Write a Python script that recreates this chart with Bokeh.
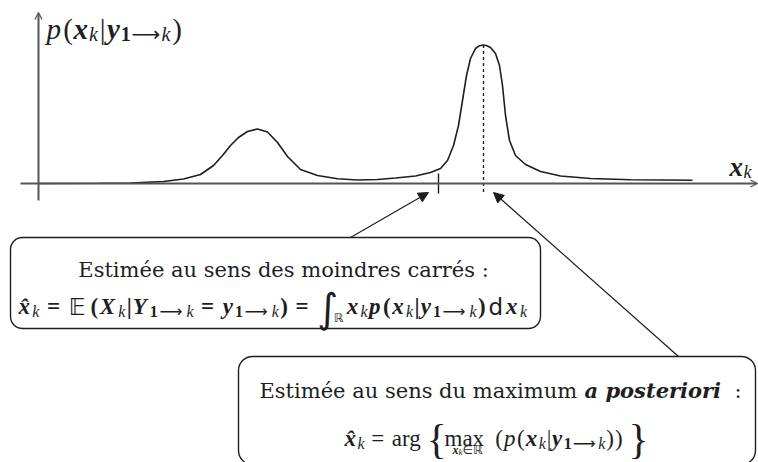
from bokeh.plotting import figure
from bokeh.models import Range1d, Label, Arrow, NormalHead, OpenHead, BoxAnnotation
from bokeh.embed import file_html
from bokeh.resources import INLINE

W, H = 758, 462

# Data space: the axes cross at pixel (38, 183); 1 unit of x_k = 50 px, 1 unit of density = 100 px
X0_PX, Y0_PX = 38, 183
XU, YU = 50.0, 100.0


def X(px):
    return (px - X0_PX) / XU


def Y(py):
    return (Y0_PX - py) / YU


# Posterior density p(x_k | y_1->k): a small bump and a sharp main mode
x_k = [0.0, 1.24, 1.84, 2.5, 2.9, 3.24, 3.5, 3.68, 3.84, 4.0, 4.18, 4.38, 4.58, 4.78,
       4.98, 5.24, 5.58, 5.98, 6.38, 6.78, 7.14, 7.54, 7.84, 8.04, 8.18, 8.3, 8.4, 8.48,
       8.56, 8.64, 8.74, 8.82, 8.9, 8.97, 9.04, 9.14, 9.22, 9.28, 9.34, 9.42, 9.54, 9.74,
       10.04, 10.44, 11.04, 11.84, 13.08]
density = [0.0, 0.002, 0.004, 0.02, 0.045, 0.09, 0.18, 0.28, 0.38, 0.46, 0.52, 0.545, 0.515, 0.41,
           0.27, 0.14, 0.08, 0.047, 0.035, 0.04, 0.055, 0.075, 0.11, 0.15, 0.23, 0.38, 0.58, 0.83,
           1.08, 1.25, 1.35, 1.378, 1.385, 1.378, 1.36, 1.3, 1.18, 0.98, 0.68, 0.43, 0.28, 0.19,
           0.12, 0.075, 0.05, 0.037, 0.032]

# Least-squares (posterior mean) estimate marked by a tick on the axis
x_mmse = 8.0

INK = "#1e1e1e"
AXIS = "#555555"
SERIF = "DejaVu Serif"
MATH = "Liberation Serif"
SANS = "DejaVu Sans"
GAP = None  # marker for a horizontal gap inside a math run

p = figure(width=W, height=H, x_range=Range1d(X(0), X(W)), y_range=Range1d(Y(H), Y(0)),
           output_backend="svg", toolbar_location=None, min_border=0)
p.axis.visible = False
p.grid.visible = False
p.outline_line_color = None
p.background_fill_color = "white"
p.border_fill_color = "white"

# axes with arrow heads
p.add_layout(Arrow(end=OpenHead(size=7, line_width=1.3, line_color=AXIS),
                   x_start=X(38), y_start=Y(200), x_end=X(38), y_end=Y(12),
                   line_color=AXIS, line_width=2))
p.add_layout(Arrow(end=OpenHead(size=7, line_width=1.3, line_color=AXIS),
                   x_start=X(20), y_start=0, x_end=X(757), y_end=0,
                   line_color=AXIS, line_width=2))

# density curve
p.line(x_k, density, line_color=INK, line_width=1.6)

# MAP estimate: dashed line from the highest point of the curve
i_max = max(range(len(density)), key=lambda i: density[i])
p.segment(x0=[x_k[i_max]], y0=[density[i_max]], x1=[x_k[i_max]], y1=[-0.1],
          line_color=INK, line_width=1.4, line_dash="3 3")
# MMSE tick
p.segment(x0=[x_mmse], y0=[0.1], x1=[x_mmse], y1=[-0.1], line_color=INK, line_width=1.4)

# boxes
p.add_layout(BoxAnnotation(left=X(10), right=X(540), top=Y(237), bottom=Y(328),
                           fill_color="white", fill_alpha=1.0, line_color=INK, line_alpha=1.0,
                           line_width=1.4, border_radius=12))
p.add_layout(BoxAnnotation(left=X(238), right=X(755), top=Y(356), bottom=Y(464),
                           fill_color="white", fill_alpha=1.0, line_color=INK, line_alpha=1.0,
                           line_width=1.4, border_radius=14))

# arrows from the boxes to the estimates on the axis
p.add_layout(Arrow(end=NormalHead(size=10, fill_color=INK, line_color=INK, line_width=1),
                   x_start=X(350), y_start=Y(237), x_end=X(428), y_end=Y(192),
                   line_color=INK, line_width=1.2))
p.add_layout(Arrow(end=NormalHead(size=10, fill_color=INK, line_color=INK, line_width=1),
                   x_start=X(678), y_start=Y(356), x_end=X(493), y_end=Y(192),
                   line_color=INK, line_width=1.2))


def put(px, py, txt, size, style="normal", font=SERIF, align="left"):
    p.add_layout(Label(x=X(px), y=Y(py), text=txt, text_font=font,
                       text_font_size=f"{size}px", text_font_style=style,
                       text_align=align, text_baseline="alphabetic", text_color=INK))


# advance widths (em) used to set math runs glyph by glyph
EM = {
    (MATH, "normal"): {"(": .333, ")": .333, "=": .564, "|": .2, "a": .444, "r": .333,
                       "g": .5, "m": .778, "x": .5, "{": .48, "}": .48},
    (MATH, "bold"): {"(": .333, ")": .333, "=": .57, "|": .22, "1": .5},
    (MATH, "italic"): {"k": .444, "p": .5},
    (MATH, "bold italic"): {"x": .5, "y": .444, "X": .667, "Y": .611, "p": .5},
    (SANS, "normal"): {"\U0001D53C": .70, "\u211d": .72, "\u2208": .87, "\u27f6": 1.4,
                       "d": .635, "\u222b": .52},
}


def advance(text, size, style, font):
    table = EM[(font, style)]
    return sum(table[c] for c in text if c != "\u0302") * size


def typeset(x_start, x_end, baseline, items):
    """Set a run of glyphs left to right, stretched to span x_start..x_end.
    items: (GAP, px) for a gap, or (text, size, style, font, dy[, adv]).
    Returns the (x, width) of every placed glyph."""
    layout, x = [], 0.0
    for it in items:
        if it[0] is GAP:
            x += it[1]
            continue
        text, size, style, font, dy = it[:5]
        w = it[5] if len(it) > 5 else advance(text, size, style, font)
        layout.append((x, w, it))
        x += w
    f = (x_end - x_start) / x
    placed = []
    for x0, w, it in layout:
        text, size, style, font, dy = it[:5]
        px = x_start + x0 * f
        if len(it) > 5:
            put(px + w * f / 2, baseline + dy, text, size, style, font, align="center")
        else:
            put(px, baseline + dy, text, size, style, font)
        placed.append((px, w * f))
    return placed


def sub_1k(size):
    # subscript "1 -> k"
    return [("1", size, "bold", MATH, 5),
            ("\u27f6", size, "normal", SANS, 5),
            ("k", size, "italic", MATH, 5)]


# vertical axis label p(x_k | y_1->k)
L, l = 29, 20
typeset(46, 182, 28, [
    ("p", L, "italic", MATH, 0), (GAP, 1),
    ("(", L, "normal", MATH, 0),
    ("x", L, "bold italic", MATH, 0),
    ("k", l, "italic", MATH, 5), (GAP, 1),
    ("|", L, "normal", MATH, 0), (GAP, 1),
    ("y", L, "bold italic", MATH, 0),
    *sub_1k(l), (GAP, 1),
    (")", L, "normal", MATH, 0),
])
# horizontal axis label x_k
put(729, 166, "x", 27, "bold italic", MATH)
put(743, 171, "k", 18, "italic", MATH)

# least-squares box
put(283, 269, "Estimée au sens des moindres carrés :", 21, align="center")
M, s = 23, 16
typeset(18, 528, 306, [
    ("x\u0302", M, "bold italic", MATH, 0),
    ("k", s, "italic", MATH, 5), (GAP, 5),
    ("=", M, "bold", MATH, 0), (GAP, 5),
    ("\U0001D53C", M, "normal", SANS, 0), (GAP, 2),
    ("(", M, "bold", MATH, 0),
    ("X", M, "bold italic", MATH, 0),
    ("k", s, "italic", MATH, 5),
    ("|", M, "bold", MATH, 0),
    ("Y", M, "bold italic", MATH, 0),
    *sub_1k(s), (GAP, 5),
    ("=", M, "bold", MATH, 0), (GAP, 5),
    ("y", M, "bold italic", MATH, 0),
    *sub_1k(s),
    (")", M, "bold", MATH, 0), (GAP, 5),
    ("=", M, "bold", MATH, 0), (GAP, 5),
    ("\u222b", 40, "normal", SANS, 1), (GAP, -7),
    ("\u211d", 12, "normal", SANS, 11), (GAP, 2),
    ("x", M, "bold italic", MATH, 0),
    ("k", s, "italic", MATH, 5),
    ("p", M, "bold italic", MATH, 0),
    ("(", M, "bold", MATH, 0),
    ("x", M, "bold italic", MATH, 0),
    ("k", s, "italic", MATH, 5),
    ("|", M, "bold", MATH, 0),
    ("y", M, "bold italic", MATH, 0),
    *sub_1k(s),
    (")", M, "bold", MATH, 0), (GAP, 1),
    ("d", M, "normal", SANS, 0),
    ("x", M, "bold italic", MATH, 0),
    ("k", s, "italic", MATH, 5),
])

# maximum a posteriori box
put(259, 390, "Estimée au sens du maximum", 21)
put(584, 390, "a posteriori", 21, "bold italic")
put(741, 390, ":", 21, align="right")
B2 = 438
placed = typeset(344, 646, B2, [
    ("x\u0302", M, "bold italic", MATH, 0),
    ("k", s, "italic", MATH, 5), (GAP, 5),
    ("=", M, "normal", MATH, 0), (GAP, 5),
    ("arg", M, "normal", MATH, 0), (GAP, 3),
    ("{", 42, "normal", MATH, 0, 14),
    ("max", M, "normal", MATH, 0), (GAP, 5),
    ("(", M, "normal", MATH, 0),
    ("p", M, "italic", MATH, 0),
    ("(", M, "normal", MATH, 0),
    ("x", M, "bold italic", MATH, 0),
    ("k", s, "italic", MATH, 5),
    ("|", M, "normal", MATH, 0),
    ("y", M, "bold italic", MATH, 0),
    *sub_1k(s),
    (")", M, "normal", MATH, 0),
    (")", M, "normal", MATH, 0), (GAP, 6),
    ("}", 42, "normal", MATH, 0, 14),
])
# limits under "max", centred below it
m_left, m_w = placed[5]
limits = [("x", 12, "bold italic", MATH, 0), ("k", 9, "italic", MATH, 2),
          ("\u2208", 12, "normal", SANS, 0), ("\u211d", 12, "normal", SANS, 0)]
lw = sum(advance(t, sz, st, fn) for t, sz, st, fn, _ in limits)
lx = m_left + m_w / 2 - lw / 2
for t, sz, st, fn, dy in limits:
    put(lx, B2 + 11 + dy, t, sz, st, fn)
    lx += advance(t, sz, st, fn)

open("out.html", "w").write(file_html(p, INLINE))
